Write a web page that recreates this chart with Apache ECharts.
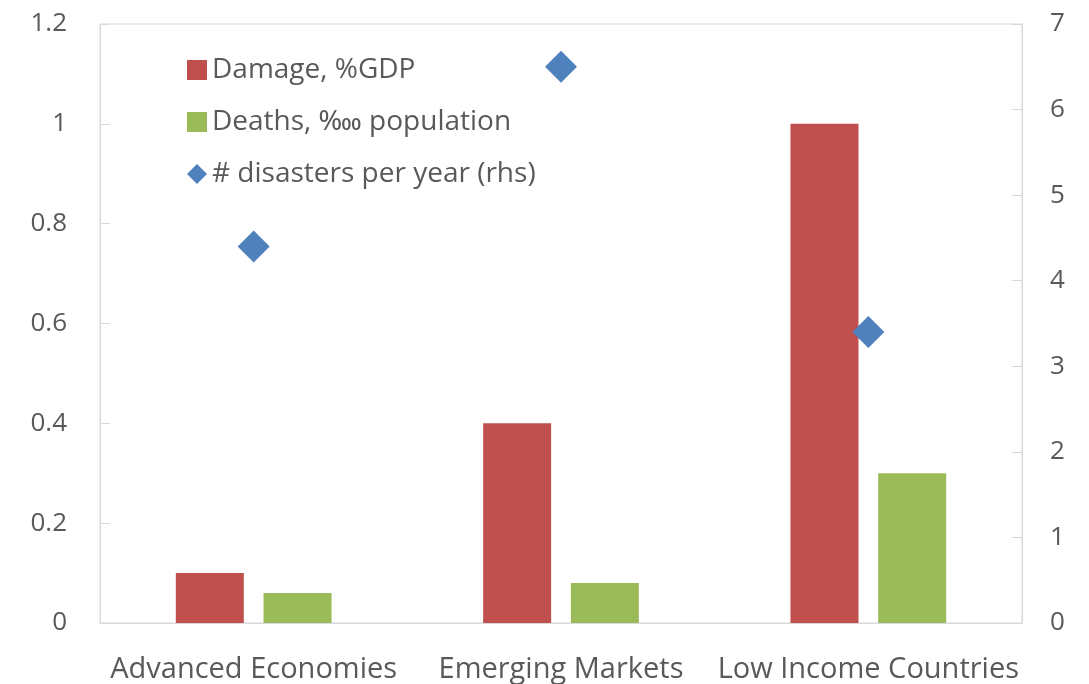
<!DOCTYPE html>
<html>
<head>
<meta charset="utf-8">
<script src="https://cdn.jsdelivr.net/npm/echarts@6/dist/echarts.min.js"></script>
<style>
  html, body { margin: 0; padding: 0; background: #fff; }
  #chart { width: 1089px; height: 684px; }
</style>
</head>
<body>
<div id="chart"></div>
<script>
  const categories = ['Advanced Economies', 'Emerging Markets', 'Low Income Countries']
  const damage = [0.1, 0.4, 1.0]
  const deaths = [0.06, 0.08, 0.3]
  const disasters = [4.4, 6.5, 3.4]

  const textColor = '#595959'
  const lineColor = '#d9d9d9'
  const font = '"Open Sans", "Noto Sans", "DejaVu Sans", sans-serif'

  const chart = echarts.init(document.getElementById('chart'))
  chart.setOption({
    animation: false,
    textStyle: { fontFamily: font },
    grid: {
      left: 100,
      right: 67,
      top: 24,
      bottom: 61,
      show: true,
      borderColor: lineColor,
      borderWidth: 1,
    },
    legend: {
      orient: 'vertical',
      left: 182,
      top: 46,
      itemWidth: 20,
      itemHeight: 20,
      itemGap: 14,
      textStyle: { color: textColor, fontSize: 28, fontFamily: font, lineHeight: 38 },
      data: [
        { name: 'Damage, %GDP', icon: 'rect' },
        { name: 'Deaths, \u2031 population', icon: 'rect' },
        { name: '# disasters per year (rhs)', icon: 'diamond' },
      ],
    },
    xAxis: {
      type: 'category',
      data: categories,
      axisLine: { lineStyle: { color: lineColor } },
      axisTick: { show: false },
      axisLabel: { color: textColor, fontSize: 29, margin: 32, interval: 0 },
    },
    yAxis: [
      {
        type: 'value',
        min: 0,
        max: 1.2,
        interval: 0.2,
        axisLine: { show: true, lineStyle: { color: lineColor } },
        axisTick: { show: true, inside: true, length: 10, lineStyle: { color: lineColor } },
        splitLine: { show: false },
        axisLabel: { color: textColor, fontSize: 26, margin: 33 },
      },
      {
        type: 'value',
        min: 0,
        max: 7,
        interval: 1,
        position: 'right',
        axisLine: { show: true, lineStyle: { color: lineColor } },
        axisTick: { show: true, inside: true, length: 10, lineStyle: { color: lineColor } },
        splitLine: { show: false },
        axisLabel: { color: textColor, fontSize: 26, margin: 28 },
      },
    ],
    series: [
      {
        name: 'Damage, %GDP',
        type: 'bar',
        data: damage,
        barWidth: 68,
        barGap: '29%',
        itemStyle: { color: '#C0504D' },
      },
      {
        name: 'Deaths, \u2031 population',
        type: 'bar',
        data: deaths,
        barWidth: 68,
        barGap: '29%',
        itemStyle: { color: '#9BBB59' },
      },
      {
        name: '# disasters per year (rhs)',
        type: 'scatter',
        yAxisIndex: 1,
        data: disasters,
        symbol: 'diamond',
        symbolSize: [32, 32],
        itemStyle: { color: '#4F81BD', opacity: 1 },
      },
    ],
  })
  window.addEventListener('resize', () => chart.resize())
</script>
</body>
</html>
